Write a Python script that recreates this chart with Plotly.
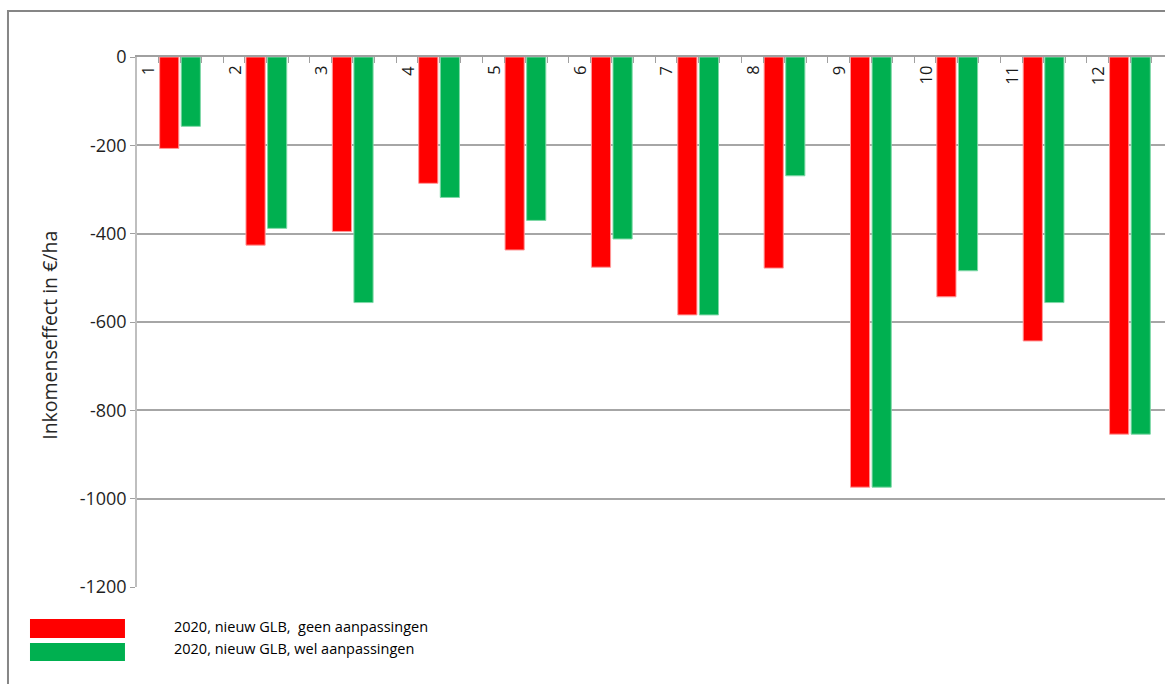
import plotly.graph_objects as go

categories = [1, 2, 3, 4, 5, 6, 7, 8, 9, 10, 11, 12]
geen_aanpassingen = [-207, -426, -395, -286, -437, -476, -584, -478, -974, -543, -643, -854]
wel_aanpassingen = [-157, -388, -556, -318, -370, -412, -584, -269, -974, -484, -556, -854]
series_names = ["2020, nieuw GLB,  geen aanpassingen", "2020, nieuw GLB, wel aanpassingen"]
y_ticks = [0, -200, -400, -600, -800, -1000, -1200]
y_ticktext = ["0", "-200", "-400", "-600", "-800", "-1000", "-1200"]
y_title = "Inkomenseffect in €/ha"

RED = "#FF0000"
GREEN = "#00B050"
FONT = "Open Sans"

fig = go.Figure()
fig.add_trace(go.Bar(
    x=categories, y=geen_aanpassingen, name=series_names[0],
    offset=-0.238, width=0.222,
    marker=dict(color=RED, line=dict(color="#FF9A9A", width=1)),
    showlegend=False,
))
fig.add_trace(go.Bar(
    x=categories, y=wel_aanpassingen, name=series_names[1],
    offset=0.012, width=0.222,
    marker=dict(color=GREEN, line=dict(color="#7FD8A7", width=1)),
    showlegend=False,
))

# category labels (rotated, in the first slot of each group)
for c in categories:
    fig.add_annotation(
        x=c - 0.375, y=0, xref="x", yref="y", text=str(c), showarrow=False,
        textangle=-90, yanchor="top", xanchor="center", yshift=-7,
        font=dict(family=FONT, size=16.5, color="#1a1a1a"),
    )

# y axis title
fig.add_annotation(
    x=-0.0846, y=0.474, xref="paper", yref="paper", text=y_title, showarrow=False,
    textangle=-90, xanchor="center", yanchor="middle",
    font=dict(family=FONT, size=19.5, color="#262626"),
)

# legend (Excel style, drawn manually)
legend_rows = [(RED, -0.0604, -0.0962, -0.0736), (GREEN, -0.1057, -0.1396, -0.1151)]
for (col, ya, yb, yt), name in zip(legend_rows, series_names):
    fig.add_shape(type="rect", xref="paper", yref="paper",
                  x0=-0.1041, x1=-0.0117, y0=yb, y1=ya,
                  fillcolor=col, line=dict(width=0))
    fig.add_annotation(
        x=0.034, y=yt, xref="paper", yref="paper", text=name, showarrow=False,
        xanchor="left", yanchor="middle",
        font=dict(family=FONT, size=14.5, color="#000000"),
    )

# outer chart border (cropped at right/bottom)
fig.add_shape(type="rect", xref="paper", yref="paper",
              x0=-0.1255, x1=1.05, y0=-0.25, y1=1.0868,
              line=dict(color="#868686", width=2), fillcolor="rgba(0,0,0,0)", layer="below")

fig.update_layout(
    width=1165, height=684,
    margin=dict(l=137, r=0, t=57, b=97),
    paper_bgcolor="white", plot_bgcolor="white",
    barmode="overlay",
    font=dict(family=FONT, color="#262626"),
    xaxis=dict(
        type="linear", range=[0.5, 12.404], side="top",
        showline=True, linecolor="#A0A0A0", linewidth=1.5,
        ticks="inside", tick0=0.5, dtick=0.25, ticklen=6, tickcolor="#A0A0A0",
        showticklabels=False, showgrid=False, zeroline=False,
    ),
    yaxis=dict(
        range=[-1200, 0], tickvals=y_ticks, ticktext=y_ticktext,
        showgrid=True, gridcolor="#A6A6A6", gridwidth=1.5,
        showline=True, linecolor="#BFBFBF", linewidth=1.5,
        ticks="outside", ticklen=5, tickcolor="#A0A0A0",
        tickfont=dict(family=FONT, size=18, color="#1f1f1f"),
        zeroline=False,
    ),
)

fig.write_html(
    "out.html",
    config={"displayModeBar": False},
    post_script="document.body.style.margin='0';document.body.style.overflow='hidden';",
)
